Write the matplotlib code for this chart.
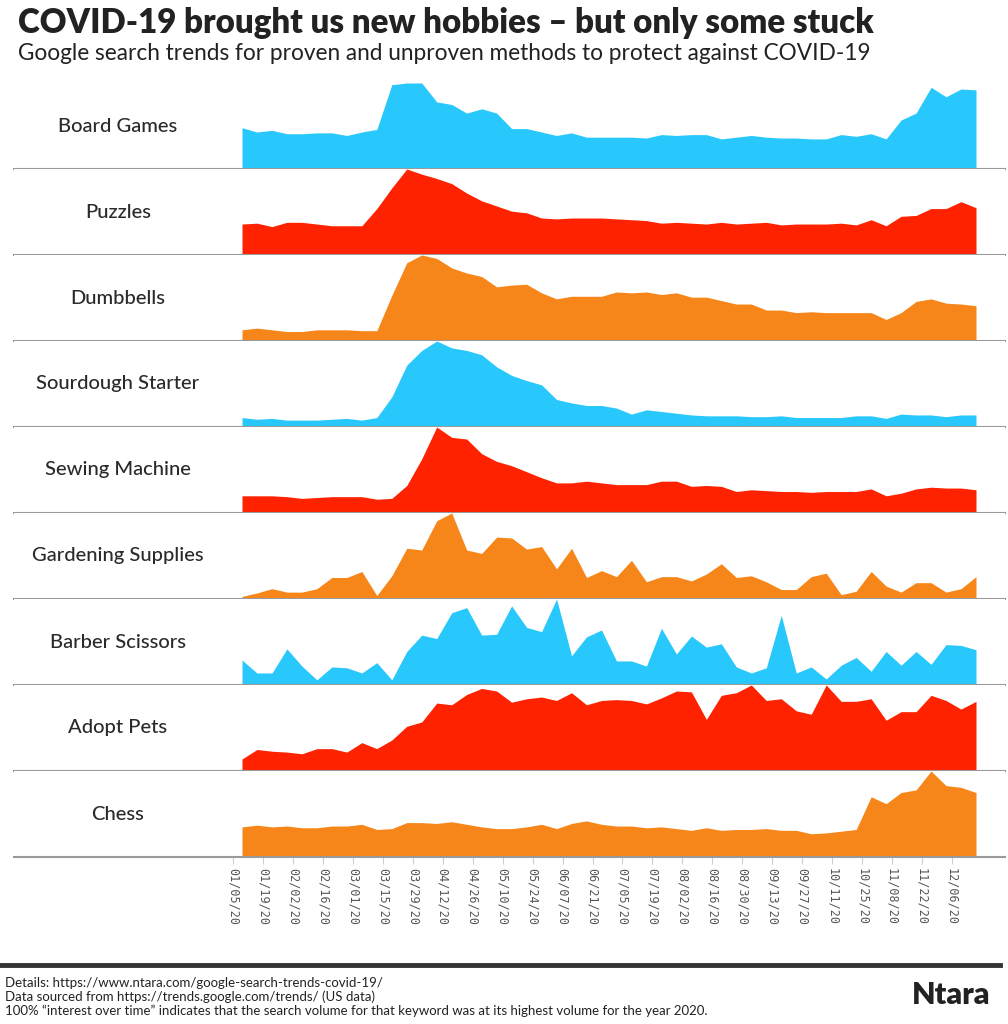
import numpy as np
import matplotlib.pyplot as plt
import pandas as pd

# Weekly Google Trends interest (0-100), weeks starting 01/05/20
weeks = pd.date_range("2020-01-05", periods=50, freq="7D")

board_games = [48, 43, 45, 41, 41, 42, 42, 39, 43, 46, 98, 100, 100, 78, 75, 65, 70, 65, 47, 47,
               43, 39, 42, 37, 37, 37, 37, 36, 40, 39, 40, 40, 35, 37, 39, 37, 36, 36, 35, 35,
               40, 38, 41, 35, 57, 65, 95, 84, 93, 92]
puzzles = [36, 37, 33, 38, 38, 36, 34, 34, 34, 54, 78, 100, 94, 89, 83, 72, 63, 57, 51, 49,
           43, 42, 43, 43, 43, 42, 41, 40, 37, 38, 37, 36, 38, 36, 37, 38, 35, 36, 36, 36,
           37, 35, 41, 34, 45, 46, 54, 54, 62, 55]
dumbbells = [13, 15, 13, 11, 11, 13, 13, 13, 12, 12, 53, 91, 100, 96, 85, 79, 75, 63, 65, 66,
             56, 49, 52, 52, 52, 57, 56, 57, 54, 56, 51, 51, 47, 43, 43, 36, 36, 33, 34, 33,
             33, 33, 33, 25, 33, 46, 49, 44, 43, 41]
sourdough = [11, 9, 10, 8, 8, 8, 9, 10, 8, 11, 35, 72, 89, 100, 92, 89, 84, 70, 60, 54,
             49, 32, 28, 25, 25, 22, 15, 20, 18, 16, 14, 13, 13, 13, 12, 12, 13, 11, 11, 11,
             11, 13, 13, 10, 15, 14, 14, 12, 14, 14]
sewing = [20, 20, 20, 19, 17, 18, 19, 19, 19, 16, 17, 32, 63, 100, 88, 86, 69, 60, 55, 48,
          41, 35, 35, 37, 35, 33, 33, 33, 37, 37, 31, 32, 31, 25, 27, 26, 25, 25, 24, 25,
          25, 25, 28, 20, 23, 28, 30, 29, 29, 27]
gardening = [3, 7, 12, 8, 8, 12, 25, 25, 32, 4, 27, 59, 57, 91, 100, 57, 53, 72, 71, 58,
             61, 35, 59, 25, 33, 26, 45, 20, 26, 26, 21, 29, 41, 25, 27, 20, 11, 11, 26, 30,
             5, 9, 32, 15, 8, 19, 19, 8, 12, 26]
barber = [29, 14, 14, 42, 22, 6, 21, 20, 14, 26, 6, 39, 58, 54, 84, 90, 58, 59, 92, 67,
          62, 100, 34, 56, 64, 28, 28, 22, 66, 36, 57, 44, 48, 21, 14, 20, 81, 14, 21, 7,
          23, 32, 16, 39, 23, 39, 24, 47, 46, 41]
adopt_pets = [14, 25, 23, 22, 20, 26, 26, 22, 33, 26, 36, 52, 57, 79, 77, 89, 96, 93, 80, 84,
              86, 82, 91, 77, 82, 83, 82, 78, 85, 93, 92, 60, 88, 91, 100, 82, 84, 70, 66, 100,
              81, 81, 84, 59, 69, 69, 88, 82, 72, 81]
chess = [35, 37, 35, 36, 34, 34, 36, 36, 38, 32, 33, 40, 40, 39, 41, 38, 35, 33, 33, 35,
         38, 33, 39, 42, 38, 36, 36, 34, 35, 33, 31, 34, 31, 32, 32, 33, 31, 31, 27, 28,
         30, 32, 70, 62, 75, 78, 100, 83, 81, 75]

labels = ["Board Games", "Puzzles", "Dumbbells", "Sourdough Starter", "Sewing Machine",
          "Gardening Supplies", "Barber Scissors", "Adopt Pets", "Chess"]
series = [board_games, puzzles, dumbbells, sourdough, sewing, gardening, barber, adopt_pets, chess]

BLUE = "#29c8fc"
RED = "#ff2200"
ORANGE = "#f7861a"
colors = [BLUE, RED, ORANGE] * 3

W, H = 1008, 1024
fig = plt.figure(figsize=(W / 100, H / 100), dpi=100)
plt.rcParams['font.family'] = ['Lato', 'DejaVu Sans']

# layout in pixels
left_px, right_px = 14, 1005
top_px, bottom_px = 83, 857
row_h = (bottom_px - top_px) / len(series)
x = np.arange(len(weeks))
px_per_wk = (976 - 242) / (len(weeks) - 1)
xmin = 0 - (242 - left_px) / px_per_wk
xmax = (len(weeks) - 1) + (right_px - 976) / px_per_wk

axes = []
for k, (lab, vals, col) in enumerate(zip(labels, series, colors)):
    y0 = bottom_px - (len(series) - k) * row_h
    ax = fig.add_axes([left_px / W, 1 - (y0 + row_h) / H, (right_px - left_px) / W, row_h / H])
    ax.fill_between(x, 0, vals, color=col, linewidth=0)
    ax.set_xlim(xmin, xmax)
    ax.set_ylim(0, 100)
    for s in ["top", "left", "right"]:
        ax.spines[s].set_visible(False)
    ax.spines["bottom"].set_color("#9a9a9a")
    ax.spines["bottom"].set_linewidth(1.5)
    ax.set_yticks([])
    ax.set_xticks([])
    ax.text((118 - left_px) / (right_px - left_px), 0.5, lab, transform=ax.transAxes,
            ha="center", va="center", fontsize=14.5, color="#2a2a2a", fontweight="medium")
    axes.append(ax)

# date ticks on the last row
last = axes[-1]
tick_idx = x[::2][:25]
last.set_xticks(tick_idx - 0.6)
last.set_xticklabels([weeks[i].strftime("%m/%d/%y") for i in tick_idx], rotation=270,
                     fontsize=8.5, color="#555555", family="DejaVu Sans Mono")
last.tick_params(axis="x", length=5, color="#cccccc", pad=3)

fig.text(18 / W, 1 - 23 / H, "COVID-19 brought us new hobbies \u2013 but only some stuck",
         fontsize=23.8, fontweight="heavy", color="#222222", va="center", ha="left")
fig.text(18 / W, 1 - 53 / H, "Google search trends for proven and unproven methods to protect against COVID-19",
         fontsize=16.3, color="#222222", va="center", ha="left")

fig.add_artist(plt.Line2D([0, 1000 / W], [1 - 965 / H, 1 - 965 / H], color="#333333", linewidth=3.5))
footer = ["Details: https://www.ntara.com/google-search-trends-covid-19/",
          "Data sourced from https://trends.google.com/trends/ (US data)",
          "100% \u201cinterest over time\u201d indicates that the search volume for that keyword was at its highest volume for the year 2020."]
for i, line in enumerate(footer):
    fig.text(5 / W, 1 - (983 + 14 * i) / H, line, fontsize=9.5, color="#222222", va="center", ha="left")
fig.text(990 / W, 1 - 995 / H, "Ntara", fontsize=22, fontweight="heavy", color="#222222",
         va="center", ha="right")

fig.savefig("out.png", dpi=100)
